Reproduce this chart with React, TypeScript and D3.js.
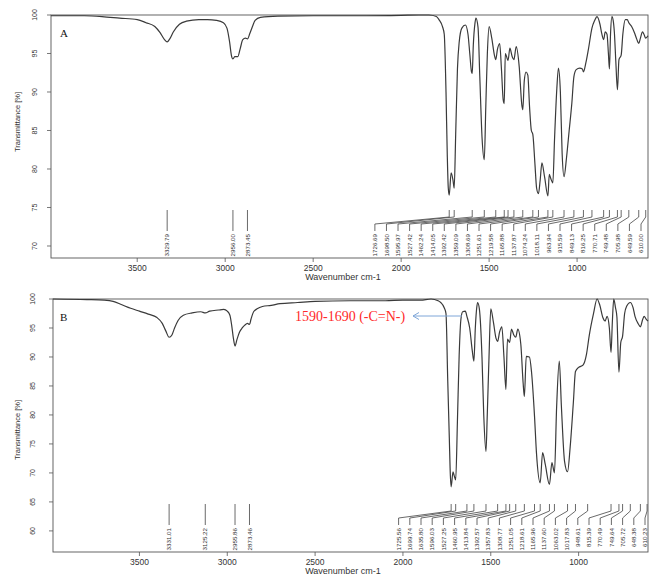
import React from "react";
import * as d3 from "d3";

// ---------- DATA ----------
const xTicks = [3500, 3000, 2500, 2000, 1500, 1000];
const yTicksA = [70, 75, 80, 85, 90, 95, 100];
const yTicksB = [60, 65, 70, 75, 80, 85, 90, 95, 100];

// spectrum A: [wavenumber, transmittance %]
const spectrumA: [number, number][] = [
  [3990, 99.9], [3800, 99.9], [3700, 99.8], [3600, 99.6], [3500, 99.4], [3450, 99.0],
  [3400, 98.5], [3370, 97.7], [3345, 96.8], [3330, 96.5], [3315, 96.9], [3295, 97.8],
  [3260, 98.8], [3220, 99.2], [3150, 99.4], [3100, 99.4], [3050, 99.3], [3010, 99.0],
  [2990, 98.3], [2975, 96.5], [2965, 94.8], [2956, 94.3], [2945, 94.6], [2928, 94.6],
  [2915, 95.6], [2900, 96.8], [2885, 97.0], [2873, 96.9], [2860, 97.6], [2845, 98.5],
  [2830, 99.3], [2800, 99.7], [2700, 99.85], [2500, 99.9], [2200, 99.9], [2000, 99.95],
  [1900, 100], [1842, 100], [1800, 99.8], [1785, 99.4], [1765, 98.5], [1755, 97.5],
  [1745, 90], [1738, 82], [1732, 77.5], [1726.69, 76.6], [1716, 79.5], [1705, 78.5],
  [1698.5, 77.5], [1690, 84.5], [1680, 93], [1670, 96.5], [1655, 98.3], [1635, 98.7],
  [1620, 97.5], [1610, 95], [1600, 92.6], [1595.97, 92.4], [1590, 96], [1580, 99],
  [1575, 99.6], [1563, 98.4], [1553, 92], [1540, 84], [1527.42, 81.2], [1519, 88],
  [1510, 95], [1500, 98.5], [1485, 97], [1470, 94.8], [1462.24, 94.2], [1453, 95.5],
  [1440, 96.3], [1430, 93], [1420, 89], [1414.05, 88.5], [1408, 95], [1392.42, 94.1],
  [1382, 95.7], [1369, 94.6], [1359.09, 94.2], [1346, 95.9], [1329, 93.3], [1314, 88.3],
  [1308.69, 87.7], [1300, 91.5], [1290, 92.6], [1280, 92.2], [1270, 88], [1260, 85],
  [1251.61, 84.5], [1240, 80.8], [1230, 77.5], [1219.58, 76.8], [1210, 78.5], [1200, 80.8],
  [1185, 79], [1165.88, 76.5], [1158, 79.3], [1150, 78.8], [1137.87, 78.2], [1128, 84],
  [1115, 90.5], [1106, 93.1], [1095, 90], [1085, 82], [1074.24, 79], [1060, 81.5],
  [1045, 85], [1030, 88.5], [1018.11, 92.0], [1005, 92.9], [985, 93.1], [970, 93],
  [963.94, 92.6], [950, 93.8], [936, 95.5], [915.59, 98.3], [900, 99.3], [887, 99.8],
  [870, 98.8], [860, 97.6], [849.13, 96.8], [840, 97.8], [830, 97.5], [822, 95],
  [816.25, 93], [810, 97.5], [802, 99.8], [795, 99.3], [788, 97.7], [780, 94],
  [770.71, 90.3], [762, 94.2], [749.48, 94.8], [740, 97.5], [726, 99.4], [715, 99.4],
  [705.98, 99.0], [690, 98.5], [674, 97.7], [660, 96.8], [649.59, 96.3], [640, 97],
  [628, 97.8], [620, 97.5], [610, 97.0], [597, 97.3],
];

const spectrumB: [number, number][] = [
  [3992, 100], [3800, 99.9], [3700, 99.8], [3650, 99.6], [3600, 99.0], [3550, 98.4],
  [3500, 97.9], [3450, 97.4], [3400, 96.8], [3370, 95.8], [3350, 94.5], [3331.01, 93.4],
  [3315, 93.8], [3300, 95.0], [3280, 96.3], [3250, 97.2], [3200, 97.6], [3150, 97.8],
  [3125.22, 97.6], [3100, 97.9], [3050, 98.1], [3020, 98.2], [3000, 97.9], [2985, 97.2],
  [2975, 95.5], [2965, 93.2], [2955.86, 91.9], [2945, 93], [2930, 94.3], [2915, 95.0],
  [2900, 95.5], [2885, 95.8], [2873.46, 95.6], [2865, 96.5], [2850, 97.8], [2830, 98.3],
  [2800, 98.7], [2750, 98.9], [2700, 99.2], [2600, 99.4], [2500, 99.6], [2300, 99.7],
  [2100, 99.7], [2000, 99.8], [1900, 99.8], [1840, 100], [1800, 99.7], [1785, 99.4],
  [1765, 98.5], [1755, 97.5], [1745, 86], [1736, 76], [1730, 69.5], [1725.56, 67.6],
  [1715, 70.2], [1708, 69.5], [1699.74, 68.8], [1690, 78.7], [1680, 90.2], [1670, 96.5],
  [1660, 97.8], [1645, 97.9], [1635.8, 97.0], [1620, 95], [1605, 91], [1596.03, 89.3],
  [1588, 95], [1580, 98.5], [1575, 99.4], [1565, 98.3], [1550, 90], [1540, 80],
  [1527.25, 73.7], [1520, 80], [1510, 90], [1500, 98.3], [1485, 96], [1470, 93.2],
  [1460.95, 92.7], [1450, 94.3], [1437, 95.2], [1425, 90], [1413.84, 84.4], [1405, 93.1],
  [1392.57, 92.5], [1382, 94.8], [1369, 93.8], [1357.83, 93.4], [1346, 94.8], [1329, 92.2],
  [1316, 85.6], [1308.77, 83.2], [1298, 90.1], [1280, 90], [1268, 87.4], [1251.05, 79.8],
  [1240, 73.5], [1218.61, 68.3], [1205, 73.5], [1190, 71.5], [1165.96, 68], [1152, 71.8],
  [1137.6, 70], [1125, 81.5], [1110, 89.3], [1098, 81.5], [1080, 72], [1063.02, 70.2],
  [1048, 74.5], [1030, 82.1], [1017.83, 87.5], [1000, 88.2], [975, 88.6], [955, 90.5],
  [940, 93.6], [915, 97.5], [895, 100], [880, 99], [862, 96.8], [849, 96.2],
  [838, 97], [825, 95], [815.39, 90.8], [808, 96], [800, 100], [790, 98.5],
  [782, 96.9], [770.49, 87.4], [760, 92.5], [749.64, 93.6], [738, 97.5], [726, 98.8],
  [705.72, 99.4], [690, 98.5], [679, 97], [660, 95.7], [648.38, 95.2], [635, 96.5],
  [627, 97], [615, 96.5], [605, 96.2],
];

const peaksA = [
  "3329.79", "2956.00", "2873.45",
  "1726.69", "1698.50", "1595.97", "1527.42", "1462.24", "1414.05", "1392.42", "1359.09",
  "1308.69", "1251.61", "1219.58", "1165.88", "1137.87", "1074.24", "1018.11", "963.94",
  "915.59", "849.13", "816.25", "770.71", "749.48", "705.98", "649.59", "610.00",
];
const peaksB = [
  "3331.01", "3125.22", "2955.86", "2873.46",
  "1725.56", "1699.74", "1635.80", "1596.03", "1527.25", "1460.95", "1413.84", "1392.57",
  "1357.83", "1308.77", "1251.05", "1218.61", "1165.96", "1137.60", "1063.02", "1017.83",
  "948.61", "815.39", "770.49", "749.64", "705.72", "648.38", "610.23",
];

const annotationText = "1590-1690 (-C=N-)";

// ---------- LAYOUT ----------
type Panel = {
  letter: string;
  data: [number, number][];
  peaks: string[];
  yTicks: number[];
  x0: number; x1: number; y0: number; y1: number;
  wMax: number; wMin: number; tMin: number;
  yLabelX: number; yTitleY: number;
  labelRight: number; gap: number;
};

const panels: Panel[] = [
  {
    letter: "A", data: spectrumA, peaks: peaksA, yTicks: yTicksA,
    x0: 51, x1: 648, y0: 15, y1: 258, wMax: 3990, wMin: 597, tMin: 68.44,
    yLabelX: 35, yTitleY: 122, labelRight: 641, gap: 11.57,
  },
  {
    letter: "B", data: spectrumB, peaks: peaksB, yTicks: yTicksB,
    x0: 53, x1: 648, y0: 299, y1: 552, wMax: 3992, wMin: 605, tMin: 56.36,
    yLabelX: 33, yTitleY: 430, labelRight: 645, gap: 11.2,
  },
];

const sans = "'Liberation Sans', Arial, sans-serif";
const serif = "'Liberation Serif', 'Times New Roman', serif";

function PanelView({ p }: { p: Panel }) {
  const x = d3.scaleLinear().domain([p.wMax, p.wMin]).range([p.x0, p.x1]);
  const y = d3.scaleLinear().domain([100, p.tMin]).range([p.y0, p.y1]);
  const line = d3
    .line<[number, number]>()
    .x((d) => x(d[0]))
    .y((d) => y(d[1]))
    .curve(d3.curveMonotoneX);

  // peak label layout (pack from right)
  const px = p.peaks.map((s) => x(parseFloat(s)));
  const pos = px.slice();
  const n = px.length;
  pos[n - 1] = Math.min(px[n - 1], p.labelRight);
  for (let i = n - 2; i >= 0; i--) pos[i] = Math.min(px[i], pos[i + 1] - p.gap);

  const tTop = p.y1 - 48, tBot = p.y1 - 41, sEnd = p.y1 - 34, vEnd = p.y1 - 27, txt = p.y1 - 24;

  return (
    <g>
      <rect x={p.x0} y={p.y0} width={p.x1 - p.x0} height={p.y1 - p.y0} fill="none" stroke="#555" strokeWidth={0.9} />
      {p.yTicks.map((t) => (
        <g key={t}>
          <line x1={p.x0 - 4} x2={p.x0} y1={y(t)} y2={y(t)} stroke="#555" strokeWidth={0.8} />
          <text
            transform={`translate(${p.yLabelX},${y(t)}) rotate(-90)`}
            textAnchor="middle" dy="0.35em" fontSize={7} fontFamily={sans} fill="#333"
          >{t}</text>
        </g>
      ))}
      {xTicks.map((t) => (
        <g key={t}>
          <line x1={x(t)} x2={x(t)} y1={p.y1} y2={p.y1 + 4} stroke="#555" strokeWidth={0.8} />
          <text x={x(t)} y={p.y1 + 13} textAnchor="middle" fontSize={8.5} fontFamily={sans} fill="#333">{t}</text>
        </g>
      ))}
      <text x={343} y={p.y1 + 22} textAnchor="middle" fontSize={9} fontFamily={sans} fill="#333">Wavenumber cm-1</text>
      <text
        transform={`translate(17,${p.yTitleY}) rotate(-90)`}
        textAnchor="middle" dy="0.35em" fontSize={7.5} fontFamily={sans} fill="#333"
      >Transmittance [%]</text>
      <text x={60} y={p.y0 + 22} fontSize={11} fontFamily={serif} fill="#111">{p.letter}</text>

      {p.peaks.map((s, i) => (
        <g key={s}>
          <path
            d={`M${px[i]},${tTop}L${px[i]},${tBot}L${pos[i]},${sEnd}L${pos[i]},${vEnd}`}
            fill="none" stroke="#444" strokeWidth={0.8}
          />
          <text
            transform={`translate(${pos[i]},${txt}) rotate(-90)`}
            textAnchor="end" dy="0.35em" fontSize={6.2} fontFamily={sans} fill="#333"
          >{s}</text>
        </g>
      ))}

      <path d={line(p.data) || ""} fill="none" stroke="#3a3a3a" strokeWidth={1.2} />
    </g>
  );
}

export default function App() {
  return (
    <svg width={649} height={578} style={{ position: "absolute", left: 0, top: 0, background: "#fff" }}>
      <rect width={649} height={578} fill="#fff" />
      {panels.map((p) => (
        <PanelView key={p.letter} p={p} />
      ))}
      <text x={295} y={321} fontSize={14} fontFamily={serif} fill="#ff2a2a">{annotationText}</text>
      <g stroke="#7ea6d8" strokeWidth={1} fill="none">
        <line x1={462} y1={316} x2={413} y2={316} />
        <path d="M419,312.5L413,316L419,319.5" />
      </g>
    </svg>
  );
}
